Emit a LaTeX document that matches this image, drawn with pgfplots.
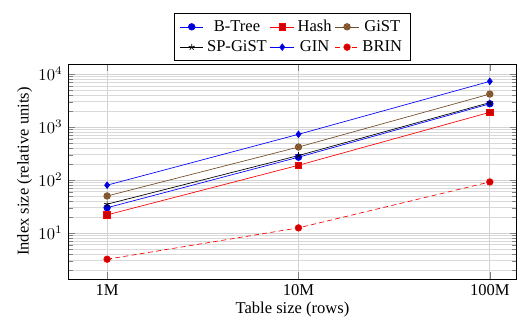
\documentclass[border=0pt]{standalone}
\usepackage{pgfplots}
\pgfplotsset{compat=1.18}
\usepackage{fontspec}
\setmainfont{Liberation Serif}
\begin{document}
\begin{tikzpicture}
\begin{loglogaxis}[
  scale only axis,
  width=271pt, height=130pt,
  xmin=6.27e5, xmax=1.38e8,
  ymin=1.35, ymax=15500,
  xtick={1e6,1e7,1e8},
  xticklabels={1M,10M,100M},
  minor x tick num=0,
  xminorticks=false,
  xmajorgrids=true,
  ymajorgrids=true,
  yminorgrids=true,
  grid style={line width=0.4pt, draw=gray!30},
  major grid style={line width=0.5pt, draw=gray!35},
  xlabel={Table size (rows)},
  ylabel={Index size (relative units)},
  xlabel shift=-3pt,
  ylabel shift=-3pt,
  legend columns=3,
  legend image code/.code={\draw[mark repeat=2,mark phase=2] plot coordinates {(0cm,0cm) (0.25cm,0cm) (0.5cm,0cm)};},
  legend style={at={(0.5,1.015)}, anchor=south, font=\normalsize},
]
\addplot coordinates {(1e6,30) (1e7,270) (1e8,2750)};
\addlegendentry{B-Tree}
\addplot coordinates {(1e6,22) (1e7,190) (1e8,1900)};
\addlegendentry{Hash}
\addplot coordinates {(1e6,50) (1e7,420) (1e8,4200)};
\addlegendentry{GiST}
\addplot coordinates {(1e6,35) (1e7,290) (1e8,2900)};
\addlegendentry{SP-GiST}
\addplot coordinates {(1e6,80) (1e7,730) (1e8,7300)};
\addlegendentry{GIN}
\addplot coordinates {(1e6,3.2) (1e7,12.5) (1e8,92)};
\addlegendentry{BRIN}
\end{loglogaxis}
\path ([yshift=7.8pt]current bounding box.north);
\path ([xshift=-7pt]current bounding box.west);
\end{tikzpicture}
\end{document}
